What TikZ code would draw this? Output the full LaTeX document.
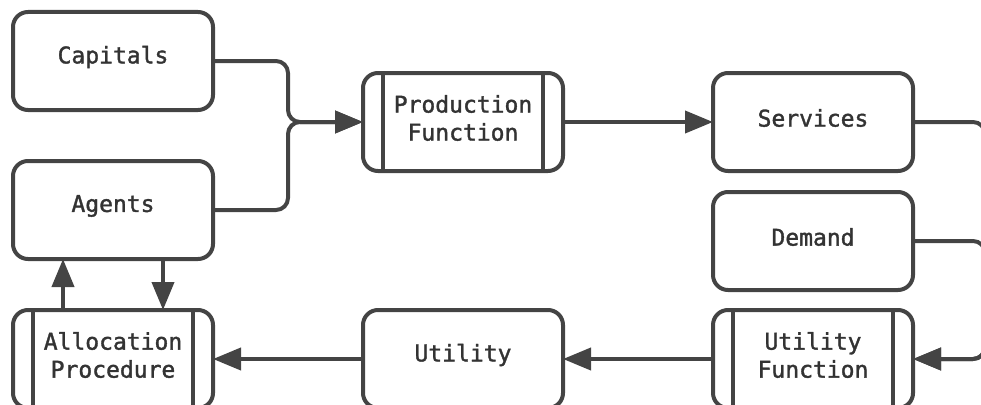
\documentclass[tikz,border=0pt]{standalone}
\usepackage{fontspec}
\newfontfamily\lblfont{DejaVu Sans Mono}[RawFeature={embolden=1.5}]
\usetikzlibrary{arrows.meta}
\definecolor{ln}{HTML}{444444}
\definecolor{tx}{HTML}{333333}
\begin{document}
\begin{tikzpicture}[x=1pt,y=-1pt,
 box/.style={draw=ln,line width=4pt,rounded corners=15pt,minimum width=200pt,minimum height=98pt,inner sep=0pt,outer sep=0pt},
 lbl/.style={yshift=4pt,inner sep=0pt,align=center,font=\lblfont\fontsize{23}{28}\selectfont,text=tx},
 conn/.style={draw=ln,line width=4pt,rounded corners=12pt},
 bar/.style={draw=ln,line width=4pt},
 arr/.style={conn,-{Triangle[length=28pt,width=22pt]}}]
\clip (0,0) rectangle (981,404);
\node[box,label={[lbl]center:Capitals}] (cap) at (113,61) {};
\node[box,label={[lbl]center:Agents}] (agents) at (113,210) {};
\node[box,label={[lbl]center:Allocation\\Procedure}] (alloc) at (113,359) {};
\node[box,label={[lbl]center:Production\\Function}] (pf) at (463,122) {};
\node[box,label={[lbl]center:Utility}] (util) at (463,359) {};
\node[box,label={[lbl]center:Services}] (serv) at (813,122) {};
\node[box,label={[lbl]center:Demand}] (dem) at (813,241) {};
\node[box,label={[lbl]center:Utility\\Function}] (uf) at (813,359) {};
\foreach \n in {alloc,pf,uf}{
  \draw[bar] ([xshift=20pt]\n.north west) -- ([xshift=20pt]\n.south west);
  \draw[bar] ([xshift=-20pt]\n.north east) -- ([xshift=-20pt]\n.south east);
}
\coordinate (j) at (288,122);
\coordinate (r) at (985,359);
\draw[arr] (cap.east) -| (j) -- (pf.west);
\draw[arr] (agents.east) -| (j) -- (pf.west);
\draw[arr] (pf.east) -- (serv.west);
\draw[arr] (serv.east) -| (r) -- (uf.east);
\draw[arr] (dem.east) -| (r) -- (uf.east);
\draw[arr] (uf.west) -- (util.east);
\draw[arr] (util.west) -- (alloc.east);
\draw[arr] ([xshift=-50pt]alloc.north) -- ([xshift=-50pt]agents.south);
\draw[arr] ([xshift=50pt]agents.south) -- ([xshift=50pt]alloc.north);
\end{tikzpicture}
\end{document}
